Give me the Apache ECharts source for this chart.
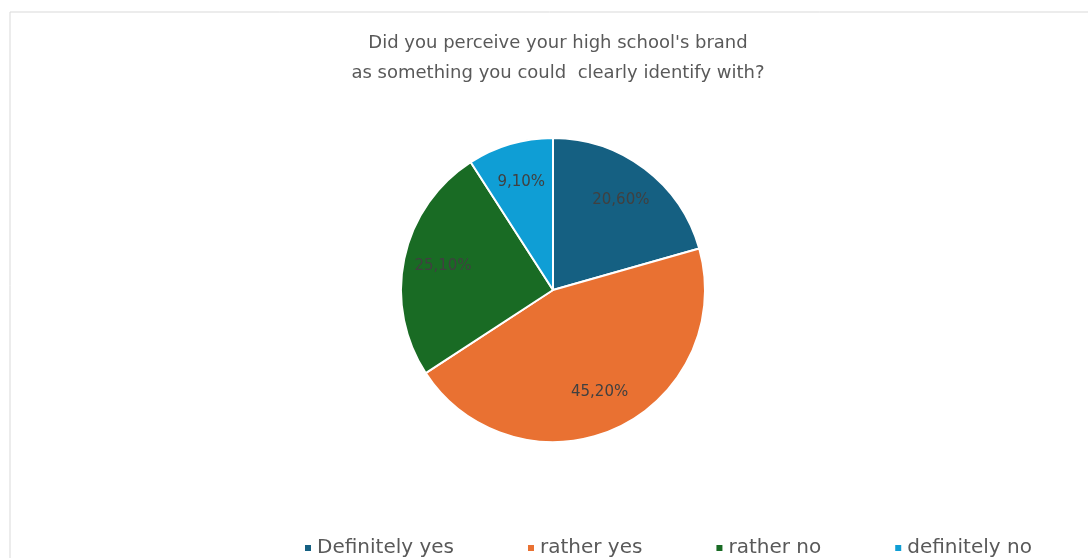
<!DOCTYPE html>
<html><head><meta charset="utf-8">
<script src="https://cdn.jsdelivr.net/npm/echarts@6/dist/echarts.min.js"></script>
<style>html,body{margin:0;padding:0;background:#fff}#c{width:1088px;height:558px}</style>
</head><body><div id="c"></div>
<script>
const categories = ["Definitely yes", "rather yes", "rather no", "definitely no"];
const values = [20.6, 45.2, 25.1, 9.1];
const colors = ["#156082", "#E97132", "#196B24", "#0F9ED5"];
const titleText = "Did you perceive your high school's brand\nas something you could  clearly identify with?";

const data = categories.map((n, i) => ({ name: n, value: values[i], itemStyle: { color: colors[i] } }));
const fmt = p => p.value.toFixed(2).replace('.', ',') + '%';
const font = "DejaVu Sans";

const chart = echarts.init(document.getElementById('c'), null, { renderer: 'canvas' });
chart.setOption({
  animation: false,
  backgroundColor: '#fff',
  graphic: [{ type: 'rect', shape: { x: 10, y: 12, width: 1100, height: 600 }, style: { fill: 'none', stroke: '#d9d9d9', lineWidth: 1 }, z: -1 }],
  title: {
    text: titleText, left: 553, textAlign: 'center', top: 23,
    textStyle: { fontFamily: font, fontSize: 18, fontWeight: 'normal', color: '#595959', lineHeight: 30 }
  },
  legend: {
    data: categories, left: 298, top: 533, itemWidth: 8, itemHeight: 8, itemGap: 72, icon: 'rect',
    textStyle: { fontFamily: font, fontSize: 20, color: '#595959' }
  },
  series: [
    {
      type: 'pie', center: [553, 290], radius: 152, startAngle: 90, clockwise: true,
      data: data, label: { show: false }, labelLine: { show: false },
      itemStyle: { borderColor: '#fff', borderWidth: 2 }, emphasis: { disabled: true }
    },
    {
      type: 'pie', center: [553, 290], radius: [67, 152], startAngle: 90, clockwise: true, silent: true,
      data: data.map(d => ({ name: d.name, value: d.value, itemStyle: { color: 'rgba(0,0,0,0)' } })),
      itemStyle: { borderWidth: 0 },
      label: { show: true, position: 'inside', formatter: fmt, fontFamily: font, fontSize: 15, color: '#404040' },
      labelLine: { show: false }, emphasis: { disabled: true }, legendHoverLink: false
    }
  ]
});
</script></body></html>
